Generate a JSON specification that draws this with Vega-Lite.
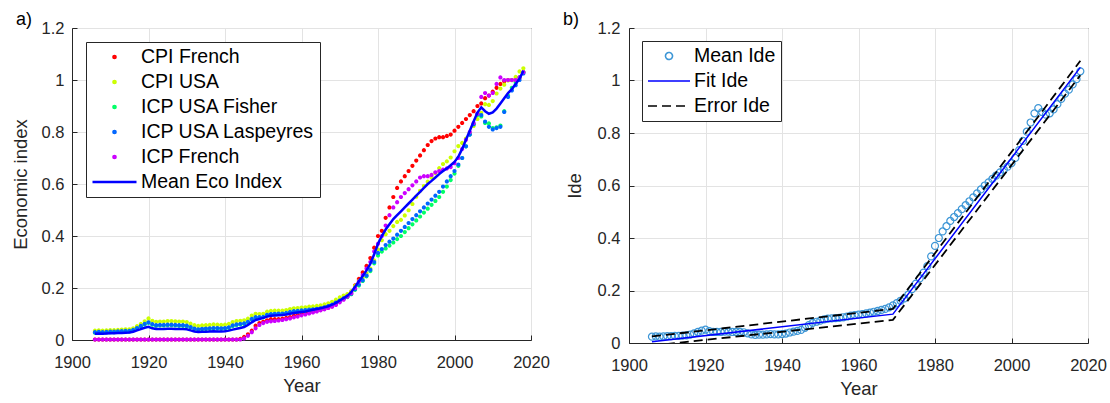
{
"$schema": "https://vega.github.io/schema/vega-lite/v6.json",
"padding": {"left": 10, "top": 10, "right": 5, "bottom": 5},
"background": "white",
"config": {
  "font": "Liberation Sans",
  "view": {"stroke": "#262626", "strokeWidth": 1},
  "axis": {"domainColor": "#262626", "tickColor": "#262626", "tickSize": -5, "labelFontSize": 16.5, "labelColor": "#262626", "titleFontSize": 18.5, "titleFontWeight": "normal", "titleColor": "#262626", "gridColor": "#e3e3e3", "labelFlush": false, "labelOverlap": false},
  "axisX": {"labelPadding": 19, "titlePadding": 6},
  "axisY": {"labelPadding": 13, "titlePadding": 11},
  "legend": {"title": null, "orient": "top-left", "offset": 14, "strokeColor": "#262626", "fillColor": "white", "padding": 5, "labelFontSize": 19.5, "labelColor": "#000000", "clipHeight": 20, "rowPadding": 5, "labelOffset": 3, "labelLimit": 400}
},
"datasets": {
"cf": [{"x":1906,"y":0.002},{"x":1907,"y":0.002},{"x":1908,"y":0.002},{"x":1909,"y":0.002},{"x":1910,"y":0.002},{"x":1911,"y":0.002},{"x":1912,"y":0.002},{"x":1913,"y":0.002},{"x":1914,"y":0.002},{"x":1915,"y":0.002},{"x":1916,"y":0.002},{"x":1917,"y":0.002},{"x":1918,"y":0.002},{"x":1919,"y":0.002},{"x":1920,"y":0.002},{"x":1921,"y":0.002},{"x":1922,"y":0.002},{"x":1923,"y":0.002},{"x":1924,"y":0.002},{"x":1925,"y":0.002},{"x":1926,"y":0.002},{"x":1927,"y":0.002},{"x":1928,"y":0.002},{"x":1929,"y":0.002},{"x":1930,"y":0.002},{"x":1931,"y":0.002},{"x":1932,"y":0.002},{"x":1933,"y":0.002},{"x":1934,"y":0.002},{"x":1935,"y":0.002},{"x":1936,"y":0.002},{"x":1937,"y":0.002},{"x":1938,"y":0.002},{"x":1939,"y":0.002},{"x":1940,"y":0.002},{"x":1941,"y":0.002},{"x":1942,"y":0.002},{"x":1943,"y":0.002},{"x":1944,"y":0.004},{"x":1945,"y":0.012},{"x":1946,"y":0.022},{"x":1947,"y":0.036},{"x":1948,"y":0.055},{"x":1949,"y":0.065},{"x":1950,"y":0.07},{"x":1951,"y":0.076},{"x":1952,"y":0.08},{"x":1953,"y":0.08},{"x":1954,"y":0.08},{"x":1955,"y":0.082},{"x":1956,"y":0.085},{"x":1957,"y":0.088},{"x":1958,"y":0.093},{"x":1959,"y":0.097},{"x":1960,"y":0.1},{"x":1961,"y":0.103},{"x":1962,"y":0.106},{"x":1963,"y":0.11},{"x":1964,"y":0.113},{"x":1965,"y":0.117},{"x":1966,"y":0.12},{"x":1967,"y":0.125},{"x":1968,"y":0.13},{"x":1969,"y":0.138},{"x":1970,"y":0.15},{"x":1971,"y":0.16},{"x":1972,"y":0.17},{"x":1973,"y":0.185},{"x":1974,"y":0.21},{"x":1975,"y":0.235},{"x":1976,"y":0.26},{"x":1977,"y":0.285},{"x":1978,"y":0.315},{"x":1979,"y":0.355},{"x":1980,"y":0.4},{"x":1981,"y":0.42},{"x":1982,"y":0.47},{"x":1983,"y":0.51},{"x":1984,"y":0.55},{"x":1985,"y":0.585},{"x":1986,"y":0.61},{"x":1987,"y":0.63},{"x":1988,"y":0.65},{"x":1989,"y":0.67},{"x":1990,"y":0.69},{"x":1991,"y":0.71},{"x":1992,"y":0.73},{"x":1993,"y":0.75},{"x":1994,"y":0.765},{"x":1995,"y":0.775},{"x":1996,"y":0.78},{"x":1997,"y":0.78},{"x":1998,"y":0.785},{"x":1999,"y":0.79},{"x":2000,"y":0.805},{"x":2001,"y":0.82},{"x":2002,"y":0.835},{"x":2003,"y":0.85},{"x":2004,"y":0.865},{"x":2005,"y":0.88},{"x":2006,"y":0.9},{"x":2007,"y":0.91},{"x":2008,"y":0.93},{"x":2009,"y":0.94},{"x":2010,"y":0.955},{"x":2011,"y":0.97},{"x":2012,"y":0.985},{"x":2013,"y":0.995},{"x":2014,"y":1.0},{"x":2015,"y":1.0},{"x":2016,"y":1.0},{"x":2017,"y":1.01},{"x":2018,"y":1.03}],
"cu": [{"x":1906,"y":0.036},{"x":1907,"y":0.037},{"x":1908,"y":0.036},{"x":1909,"y":0.037},{"x":1910,"y":0.038},{"x":1911,"y":0.038},{"x":1912,"y":0.039},{"x":1913,"y":0.04},{"x":1914,"y":0.041},{"x":1915,"y":0.041},{"x":1916,"y":0.045},{"x":1917,"y":0.053},{"x":1918,"y":0.062},{"x":1919,"y":0.072},{"x":1920,"y":0.083},{"x":1921,"y":0.074},{"x":1922,"y":0.07},{"x":1923,"y":0.071},{"x":1924,"y":0.071},{"x":1925,"y":0.073},{"x":1926,"y":0.073},{"x":1927,"y":0.072},{"x":1928,"y":0.071},{"x":1929,"y":0.071},{"x":1930,"y":0.069},{"x":1931,"y":0.063},{"x":1932,"y":0.057},{"x":1933,"y":0.054},{"x":1934,"y":0.056},{"x":1935,"y":0.057},{"x":1936,"y":0.058},{"x":1937,"y":0.06},{"x":1938,"y":0.059},{"x":1939,"y":0.058},{"x":1940,"y":0.059},{"x":1941,"y":0.062},{"x":1942,"y":0.069},{"x":1943,"y":0.073},{"x":1944,"y":0.074},{"x":1945,"y":0.076},{"x":1946,"y":0.082},{"x":1947,"y":0.094},{"x":1948,"y":0.101},{"x":1949,"y":0.1},{"x":1950,"y":0.101},{"x":1951,"y":0.109},{"x":1952,"y":0.112},{"x":1953,"y":0.113},{"x":1954,"y":0.113},{"x":1955,"y":0.113},{"x":1956,"y":0.115},{"x":1957,"y":0.119},{"x":1958,"y":0.122},{"x":1959,"y":0.123},{"x":1960,"y":0.125},{"x":1961,"y":0.126},{"x":1962,"y":0.128},{"x":1963,"y":0.129},{"x":1964,"y":0.131},{"x":1965,"y":0.133},{"x":1966,"y":0.137},{"x":1967,"y":0.141},{"x":1968,"y":0.147},{"x":1969,"y":0.155},{"x":1970,"y":0.164},{"x":1971,"y":0.171},{"x":1972,"y":0.177},{"x":1973,"y":0.188},{"x":1974,"y":0.208},{"x":1975,"y":0.227},{"x":1976,"y":0.24},{"x":1977,"y":0.256},{"x":1978,"y":0.275},{"x":1979,"y":0.306},{"x":1980,"y":0.348},{"x":1981,"y":0.384},{"x":1982,"y":0.407},{"x":1983,"y":0.42},{"x":1984,"y":0.438},{"x":1985,"y":0.454},{"x":1986,"y":0.462},{"x":1987,"y":0.479},{"x":1988,"y":0.499},{"x":1989,"y":0.523},{"x":1990,"y":0.551},{"x":1991,"y":0.574},{"x":1992,"y":0.592},{"x":1993,"y":0.609},{"x":1994,"y":0.625},{"x":1995,"y":0.642},{"x":1996,"y":0.661},{"x":1997,"y":0.677},{"x":1998,"y":0.687},{"x":1999,"y":0.702},{"x":2000,"y":0.726},{"x":2001,"y":0.746},{"x":2002,"y":0.758},{"x":2003,"y":0.775},{"x":2004,"y":0.796},{"x":2005,"y":0.823},{"x":2006,"y":0.85},{"x":2007,"y":0.874},{"x":2008,"y":0.907},{"x":2009,"y":0.904},{"x":2010,"y":0.919},{"x":2011,"y":0.948},{"x":2012,"y":0.967},{"x":2013,"y":0.982},{"x":2014,"y":0.998},{"x":2015,"y":0.999},{"x":2016,"y":1.012},{"x":2017,"y":1.033},{"x":2018,"y":1.045}],
"uf": [{"x":1906,"y":0.028},{"x":1907,"y":0.029},{"x":1908,"y":0.028},{"x":1909,"y":0.029},{"x":1910,"y":0.03},{"x":1911,"y":0.03},{"x":1912,"y":0.031},{"x":1913,"y":0.032},{"x":1914,"y":0.033},{"x":1915,"y":0.033},{"x":1916,"y":0.037},{"x":1917,"y":0.044},{"x":1918,"y":0.052},{"x":1919,"y":0.06},{"x":1920,"y":0.066},{"x":1921,"y":0.059},{"x":1922,"y":0.055},{"x":1923,"y":0.056},{"x":1924,"y":0.056},{"x":1925,"y":0.057},{"x":1926,"y":0.057},{"x":1927,"y":0.056},{"x":1928,"y":0.055},{"x":1929,"y":0.055},{"x":1930,"y":0.053},{"x":1931,"y":0.048},{"x":1932,"y":0.042},{"x":1933,"y":0.039},{"x":1934,"y":0.041},{"x":1935,"y":0.042},{"x":1936,"y":0.043},{"x":1937,"y":0.044},{"x":1938,"y":0.044},{"x":1939,"y":0.043},{"x":1940,"y":0.044},{"x":1941,"y":0.047},{"x":1942,"y":0.054},{"x":1943,"y":0.058},{"x":1944,"y":0.06},{"x":1945,"y":0.062},{"x":1946,"y":0.068},{"x":1947,"y":0.079},{"x":1948,"y":0.086},{"x":1949,"y":0.086},{"x":1950,"y":0.087},{"x":1951,"y":0.095},{"x":1952,"y":0.098},{"x":1953,"y":0.099},{"x":1954,"y":0.1},{"x":1955,"y":0.1},{"x":1956,"y":0.102},{"x":1957,"y":0.106},{"x":1958,"y":0.109},{"x":1959,"y":0.11},{"x":1960,"y":0.112},{"x":1961,"y":0.113},{"x":1962,"y":0.115},{"x":1963,"y":0.116},{"x":1964,"y":0.118},{"x":1965,"y":0.12},{"x":1966,"y":0.124},{"x":1967,"y":0.128},{"x":1968,"y":0.134},{"x":1969,"y":0.142},{"x":1970,"y":0.15},{"x":1971,"y":0.158},{"x":1972,"y":0.165},{"x":1973,"y":0.176},{"x":1974,"y":0.193},{"x":1975,"y":0.21},{"x":1976,"y":0.227},{"x":1977,"y":0.245},{"x":1978,"y":0.265},{"x":1979,"y":0.295},{"x":1980,"y":0.325},{"x":1981,"y":0.34},{"x":1982,"y":0.352},{"x":1983,"y":0.363},{"x":1984,"y":0.375},{"x":1985,"y":0.388},{"x":1986,"y":0.4},{"x":1987,"y":0.415},{"x":1988,"y":0.43},{"x":1989,"y":0.445},{"x":1990,"y":0.46},{"x":1991,"y":0.475},{"x":1992,"y":0.49},{"x":1993,"y":0.505},{"x":1994,"y":0.52},{"x":1995,"y":0.535},{"x":1996,"y":0.55},{"x":1997,"y":0.57},{"x":1998,"y":0.59},{"x":1999,"y":0.615},{"x":2000,"y":0.64},{"x":2001,"y":0.67},{"x":2002,"y":0.7},{"x":2003,"y":0.745},{"x":2004,"y":0.79},{"x":2005,"y":0.83},{"x":2006,"y":0.865},{"x":2007,"y":0.86},{"x":2008,"y":0.835},{"x":2009,"y":0.833},{"x":2010,"y":0.815},{"x":2011,"y":0.818},{"x":2012,"y":0.825},{"x":2013,"y":0.88},{"x":2014,"y":0.94},{"x":2015,"y":0.97},{"x":2016,"y":0.99},{"x":2017,"y":1.01},{"x":2018,"y":1.03}],
"ul": [{"x":1906,"y":0.03},{"x":1907,"y":0.031},{"x":1908,"y":0.03},{"x":1909,"y":0.031},{"x":1910,"y":0.032},{"x":1911,"y":0.032},{"x":1912,"y":0.033},{"x":1913,"y":0.034},{"x":1914,"y":0.035},{"x":1915,"y":0.035},{"x":1916,"y":0.039},{"x":1917,"y":0.046},{"x":1918,"y":0.054},{"x":1919,"y":0.062},{"x":1920,"y":0.068},{"x":1921,"y":0.061},{"x":1922,"y":0.057},{"x":1923,"y":0.058},{"x":1924,"y":0.058},{"x":1925,"y":0.059},{"x":1926,"y":0.059},{"x":1927,"y":0.058},{"x":1928,"y":0.057},{"x":1929,"y":0.057},{"x":1930,"y":0.055},{"x":1931,"y":0.05},{"x":1932,"y":0.044},{"x":1933,"y":0.041},{"x":1934,"y":0.043},{"x":1935,"y":0.044},{"x":1936,"y":0.045},{"x":1937,"y":0.046},{"x":1938,"y":0.046},{"x":1939,"y":0.045},{"x":1940,"y":0.046},{"x":1941,"y":0.049},{"x":1942,"y":0.056},{"x":1943,"y":0.06},{"x":1944,"y":0.062},{"x":1945,"y":0.064},{"x":1946,"y":0.07},{"x":1947,"y":0.081},{"x":1948,"y":0.088},{"x":1949,"y":0.088},{"x":1950,"y":0.089},{"x":1951,"y":0.097},{"x":1952,"y":0.1},{"x":1953,"y":0.101},{"x":1954,"y":0.102},{"x":1955,"y":0.102},{"x":1956,"y":0.104},{"x":1957,"y":0.108},{"x":1958,"y":0.111},{"x":1959,"y":0.112},{"x":1960,"y":0.114},{"x":1961,"y":0.115},{"x":1962,"y":0.117},{"x":1963,"y":0.118},{"x":1964,"y":0.12},{"x":1965,"y":0.122},{"x":1966,"y":0.126},{"x":1967,"y":0.13},{"x":1968,"y":0.136},{"x":1969,"y":0.144},{"x":1970,"y":0.152},{"x":1971,"y":0.16},{"x":1972,"y":0.167},{"x":1973,"y":0.178},{"x":1974,"y":0.196},{"x":1975,"y":0.213},{"x":1976,"y":0.23},{"x":1977,"y":0.248},{"x":1978,"y":0.27},{"x":1979,"y":0.3},{"x":1980,"y":0.335},{"x":1981,"y":0.35},{"x":1982,"y":0.365},{"x":1983,"y":0.378},{"x":1984,"y":0.39},{"x":1985,"y":0.405},{"x":1986,"y":0.42},{"x":1987,"y":0.435},{"x":1988,"y":0.45},{"x":1989,"y":0.465},{"x":1990,"y":0.48},{"x":1991,"y":0.495},{"x":1992,"y":0.51},{"x":1993,"y":0.525},{"x":1994,"y":0.54},{"x":1995,"y":0.555},{"x":1996,"y":0.57},{"x":1997,"y":0.59},{"x":1998,"y":0.61},{"x":1999,"y":0.63},{"x":2000,"y":0.65},{"x":2001,"y":0.675},{"x":2002,"y":0.7},{"x":2003,"y":0.745},{"x":2004,"y":0.79},{"x":2005,"y":0.83},{"x":2006,"y":0.87},{"x":2007,"y":0.865},{"x":2008,"y":0.84},{"x":2009,"y":0.82},{"x":2010,"y":0.81},{"x":2011,"y":0.815},{"x":2012,"y":0.82},{"x":2013,"y":0.877},{"x":2014,"y":0.935},{"x":2015,"y":0.96},{"x":2016,"y":0.98},{"x":2017,"y":1.0},{"x":2018,"y":1.025}],
"icf": [{"x":1906,"y":0.002},{"x":1907,"y":0.002},{"x":1908,"y":0.002},{"x":1909,"y":0.002},{"x":1910,"y":0.002},{"x":1911,"y":0.002},{"x":1912,"y":0.002},{"x":1913,"y":0.002},{"x":1914,"y":0.002},{"x":1915,"y":0.002},{"x":1916,"y":0.002},{"x":1917,"y":0.002},{"x":1918,"y":0.002},{"x":1919,"y":0.002},{"x":1920,"y":0.002},{"x":1921,"y":0.002},{"x":1922,"y":0.002},{"x":1923,"y":0.002},{"x":1924,"y":0.002},{"x":1925,"y":0.002},{"x":1926,"y":0.002},{"x":1927,"y":0.002},{"x":1928,"y":0.002},{"x":1929,"y":0.002},{"x":1930,"y":0.002},{"x":1931,"y":0.002},{"x":1932,"y":0.002},{"x":1933,"y":0.002},{"x":1934,"y":0.002},{"x":1935,"y":0.002},{"x":1936,"y":0.002},{"x":1937,"y":0.002},{"x":1938,"y":0.002},{"x":1939,"y":0.002},{"x":1940,"y":0.002},{"x":1941,"y":0.002},{"x":1942,"y":0.002},{"x":1943,"y":0.002},{"x":1944,"y":0.002},{"x":1945,"y":0.006},{"x":1946,"y":0.016},{"x":1947,"y":0.03},{"x":1948,"y":0.045},{"x":1949,"y":0.058},{"x":1950,"y":0.065},{"x":1951,"y":0.07},{"x":1952,"y":0.072},{"x":1953,"y":0.073},{"x":1954,"y":0.075},{"x":1955,"y":0.077},{"x":1956,"y":0.08},{"x":1957,"y":0.083},{"x":1958,"y":0.087},{"x":1959,"y":0.09},{"x":1960,"y":0.095},{"x":1961,"y":0.098},{"x":1962,"y":0.102},{"x":1963,"y":0.106},{"x":1964,"y":0.11},{"x":1965,"y":0.114},{"x":1966,"y":0.118},{"x":1967,"y":0.123},{"x":1968,"y":0.128},{"x":1969,"y":0.135},{"x":1970,"y":0.145},{"x":1971,"y":0.155},{"x":1972,"y":0.167},{"x":1973,"y":0.18},{"x":1974,"y":0.2},{"x":1975,"y":0.225},{"x":1976,"y":0.25},{"x":1977,"y":0.275},{"x":1978,"y":0.3},{"x":1979,"y":0.34},{"x":1980,"y":0.37},{"x":1981,"y":0.4},{"x":1982,"y":0.44},{"x":1983,"y":0.48},{"x":1984,"y":0.51},{"x":1985,"y":0.53},{"x":1986,"y":0.55},{"x":1987,"y":0.565},{"x":1988,"y":0.58},{"x":1989,"y":0.595},{"x":1990,"y":0.61},{"x":1991,"y":0.625},{"x":1992,"y":0.63},{"x":1993,"y":0.63},{"x":1994,"y":0.635},{"x":1995,"y":0.645},{"x":1996,"y":0.65},{"x":1997,"y":0.655},{"x":1998,"y":0.66},{"x":1999,"y":0.665},{"x":2000,"y":0.68},{"x":2001,"y":0.7},{"x":2002,"y":0.735},{"x":2003,"y":0.77},{"x":2004,"y":0.8},{"x":2005,"y":0.835},{"x":2006,"y":0.87},{"x":2007,"y":0.935},{"x":2008,"y":0.95},{"x":2009,"y":0.94},{"x":2010,"y":0.95},{"x":2011,"y":0.985},{"x":2012,"y":1.01},{"x":2013,"y":1.0},{"x":2014,"y":1.0},{"x":2015,"y":1.0},{"x":2016,"y":1.0},{"x":2017,"y":1.01},{"x":2018,"y":1.03}],
"me": [{"x":1906,"y":0.024},{"x":1907,"y":0.025},{"x":1908,"y":0.024},{"x":1909,"y":0.025},{"x":1910,"y":0.026},{"x":1911,"y":0.026},{"x":1912,"y":0.027},{"x":1913,"y":0.027},{"x":1914,"y":0.028},{"x":1915,"y":0.029},{"x":1916,"y":0.032},{"x":1917,"y":0.037},{"x":1918,"y":0.042},{"x":1919,"y":0.047},{"x":1920,"y":0.051},{"x":1921,"y":0.045},{"x":1922,"y":0.042},{"x":1923,"y":0.042},{"x":1924,"y":0.042},{"x":1925,"y":0.043},{"x":1926,"y":0.043},{"x":1927,"y":0.042},{"x":1928,"y":0.042},{"x":1929,"y":0.042},{"x":1930,"y":0.041},{"x":1931,"y":0.037},{"x":1932,"y":0.033},{"x":1933,"y":0.031},{"x":1934,"y":0.032},{"x":1935,"y":0.032},{"x":1936,"y":0.033},{"x":1937,"y":0.034},{"x":1938,"y":0.033},{"x":1939,"y":0.033},{"x":1940,"y":0.034},{"x":1941,"y":0.036},{"x":1942,"y":0.04},{"x":1943,"y":0.043},{"x":1944,"y":0.046},{"x":1945,"y":0.05},{"x":1946,"y":0.058},{"x":1947,"y":0.068},{"x":1948,"y":0.077},{"x":1949,"y":0.081},{"x":1950,"y":0.085},{"x":1951,"y":0.09},{"x":1952,"y":0.093},{"x":1953,"y":0.094},{"x":1954,"y":0.095},{"x":1955,"y":0.096},{"x":1956,"y":0.098},{"x":1957,"y":0.101},{"x":1958,"y":0.104},{"x":1959,"y":0.106},{"x":1960,"y":0.108},{"x":1961,"y":0.11},{"x":1962,"y":0.113},{"x":1963,"y":0.116},{"x":1964,"y":0.119},{"x":1965,"y":0.122},{"x":1966,"y":0.126},{"x":1967,"y":0.13},{"x":1968,"y":0.136},{"x":1969,"y":0.143},{"x":1970,"y":0.152},{"x":1971,"y":0.161},{"x":1972,"y":0.17},{"x":1973,"y":0.184},{"x":1974,"y":0.205},{"x":1975,"y":0.226},{"x":1976,"y":0.246},{"x":1977,"y":0.268},{"x":1978,"y":0.293},{"x":1979,"y":0.33},{"x":1980,"y":0.37},{"x":1981,"y":0.4},{"x":1982,"y":0.425},{"x":1983,"y":0.445},{"x":1984,"y":0.465},{"x":1985,"y":0.48},{"x":1986,"y":0.495},{"x":1987,"y":0.51},{"x":1988,"y":0.525},{"x":1989,"y":0.54},{"x":1990,"y":0.555},{"x":1991,"y":0.57},{"x":1992,"y":0.585},{"x":1993,"y":0.6},{"x":1994,"y":0.612},{"x":1995,"y":0.625},{"x":1996,"y":0.638},{"x":1997,"y":0.65},{"x":1998,"y":0.66},{"x":1999,"y":0.672},{"x":2000,"y":0.685},{"x":2001,"y":0.705},{"x":2002,"y":0.735},{"x":2003,"y":0.77},{"x":2004,"y":0.805},{"x":2005,"y":0.84},{"x":2006,"y":0.875},{"x":2007,"y":0.895},{"x":2008,"y":0.88},{"x":2009,"y":0.87},{"x":2010,"y":0.875},{"x":2011,"y":0.89},{"x":2012,"y":0.91},{"x":2013,"y":0.93},{"x":2014,"y":0.95},{"x":2015,"y":0.965},{"x":2016,"y":0.985},{"x":2017,"y":1.005},{"x":2018,"y":1.035}],
"fit": [{"x":1906,"y":0.005},{"x":1969,"y":0.11},{"x":2018,"y":1.05}],
"err": [{"g":"upper","x":1906,"y":0.025},{"g":"upper","x":1969,"y":0.13},{"g":"upper","x":2018,"y":1.075},{"g":"lower","x":1906,"y":-0.01},{"g":"lower","x":1969,"y":0.088},{"g":"lower","x":2018,"y":1.02}]
},
"spacing": 12,
"resolve": {"scale": {"color": "independent", "shape": "independent", "strokeDash": "independent"}, "legend": {"color": "independent", "shape": "independent", "strokeDash": "independent"}},
"hconcat": [
{
  "width": 459, "height": 312,
  "title": {"text": "a)", "anchor": "start", "frame": "group", "dx": -56, "offset": -9, "fontSize": 18, "fontWeight": "normal", "color": "#000000"},
  "encoding": {
    "x": {"field": "x", "type": "quantitative", "scale": {"domain": [1900, 2020], "nice": false, "zero": false}, "axis": {"title": "Year", "values": [1900, 1920, 1940, 1960, 1980, 2000, 2020], "format": "d"}},
    "y": {"field": "y", "type": "quantitative", "scale": {"domain": [0, 1.2], "nice": false}, "axis": {"title": "Economic index", "values": [0, 0.2, 0.4, 0.6, 0.8, 1, 1.2], "format": ".1~f"}}
  },
  "layer": [
    {"data": {"name": "cf"}, "mark": {"type": "point", "filled": false, "size": 1600, "strokeWidth": 2.2, "opacity": 1},
     "encoding": {
       "color": {"datum": "CPI French", "type": "nominal",
         "scale": {"domain": ["CPI French", "CPI USA", "ICP USA Fisher", "ICP USA Laspeyres", "ICP French", "Mean Eco Index"], "range": ["#ff0000", "#ccff00", "#00ff66", "#0066ff", "#cc00ff", "#0000ff"]},
         "legend": {"offset": 14, "symbolSize": 1936, "symbolStrokeWidth": 2.5}},
       "shape": {"datum": "CPI French", "type": "nominal",
         "scale": {"domain": ["CPI French", "CPI USA", "ICP USA Fisher", "ICP USA Laspeyres", "ICP French", "Mean Eco Index"], "range": ["M-0.05,0A0.05,0.05,0,1,1,0.05,0A0.05,0.05,0,1,1,-0.05,0Z", "M-0.05,0A0.05,0.05,0,1,1,0.05,0A0.05,0.05,0,1,1,-0.05,0Z", "M-0.05,0A0.05,0.05,0,1,1,0.05,0A0.05,0.05,0,1,1,-0.05,0Z", "M-0.05,0A0.05,0.05,0,1,1,0.05,0A0.05,0.05,0,1,1,-0.05,0Z", "M-0.05,0A0.05,0.05,0,1,1,0.05,0A0.05,0.05,0,1,1,-0.05,0Z", "stroke"]},
         "legend": {"offset": 14, "symbolSize": 1936, "symbolStrokeWidth": 2.5}}}},
    {"data": {"name": "cu"}, "mark": {"type": "point", "filled": false, "size": 1600, "strokeWidth": 2.2, "opacity": 1}, "encoding": {"color": {"datum": "CPI USA", "type": "nominal"}, "shape": {"datum": "CPI USA", "type": "nominal"}}},
    {"data": {"name": "uf"}, "mark": {"type": "point", "filled": false, "size": 1600, "strokeWidth": 2.2, "opacity": 1}, "encoding": {"color": {"datum": "ICP USA Fisher", "type": "nominal"}, "shape": {"datum": "ICP USA Fisher", "type": "nominal"}}},
    {"data": {"name": "ul"}, "mark": {"type": "point", "filled": false, "size": 1600, "strokeWidth": 2.2, "opacity": 1}, "encoding": {"color": {"datum": "ICP USA Laspeyres", "type": "nominal"}, "shape": {"datum": "ICP USA Laspeyres", "type": "nominal"}}},
    {"data": {"name": "icf"}, "mark": {"type": "point", "filled": false, "size": 1600, "strokeWidth": 2.2, "opacity": 1}, "encoding": {"color": {"datum": "ICP French", "type": "nominal"}, "shape": {"datum": "ICP French", "type": "nominal"}}},
    {"data": {"name": "me"}, "mark": {"type": "line", "strokeWidth": 2.5}, "encoding": {"color": {"datum": "Mean Eco Index", "type": "nominal"}}}
  ]
},
{
  "width": 459, "height": 315,
  "title": {"text": "b)", "anchor": "start", "frame": "group", "dx": -66, "offset": -9, "fontSize": 18, "fontWeight": "normal", "color": "#000000"},
  "encoding": {
    "x": {"field": "x", "type": "quantitative", "scale": {"domain": [1900, 2020], "nice": false, "zero": false}, "axis": {"title": "Year", "values": [1900, 1920, 1940, 1960, 1980, 2000, 2020], "format": "d"}},
    "y": {"field": "y", "type": "quantitative", "scale": {"domain": [0, 1.2], "nice": false}, "axis": {"title": "Ide", "values": [0, 0.2, 0.4, 0.6, 0.8, 1, 1.2], "format": ".1~f", "labelPadding": 14, "titlePadding": 13}}
  },
  "layer": [
    {"data": {"name": "me"}, "mark": {"type": "point", "filled": false, "size": 1764, "strokeWidth": 1.2, "opacity": 1},
     "encoding": {
       "color": {"datum": "Mean Ide", "type": "nominal",
         "scale": {"domain": ["Mean Ide", "Fit Ide", "Error Ide"], "range": ["#3d96d6", "#0000ff", "#000000"]},
         "legend": {"offset": 13, "symbolSize": 1764, "symbolStrokeWidth": 1.6}},
       "shape": {"datum": "Mean Ide", "type": "nominal",
         "scale": {"domain": ["Mean Ide", "Fit Ide", "Error Ide"], "range": ["M-0.167,0A0.167,0.167,0,1,1,0.167,0A0.167,0.167,0,1,1,-0.167,0Z", "stroke", "stroke"]},
         "legend": {"offset": 13, "symbolSize": 1764, "symbolStrokeWidth": 1.6}}}},
    {"data": {"name": "fit"}, "mark": {"type": "line", "strokeWidth": 1.5, "clip": true}, "encoding": {"color": {"datum": "Fit Ide", "type": "nominal"}}},
    {"data": {"name": "err"}, "mark": {"type": "line", "strokeWidth": 1.8, "clip": true},
     "encoding": {"color": {"datum": "Error Ide", "type": "nominal"}, "detail": {"field": "g", "type": "nominal"},
       "strokeDash": {"datum": "Error Ide", "type": "nominal",
         "scale": {"domain": ["Mean Ide", "Fit Ide", "Error Ide"], "range": [[1, 0], [1, 0], [9, 5]]},
         "legend": {"offset": 13, "symbolSize": 1764, "symbolStrokeWidth": 1.6}}}}
  ]
}
]
}
